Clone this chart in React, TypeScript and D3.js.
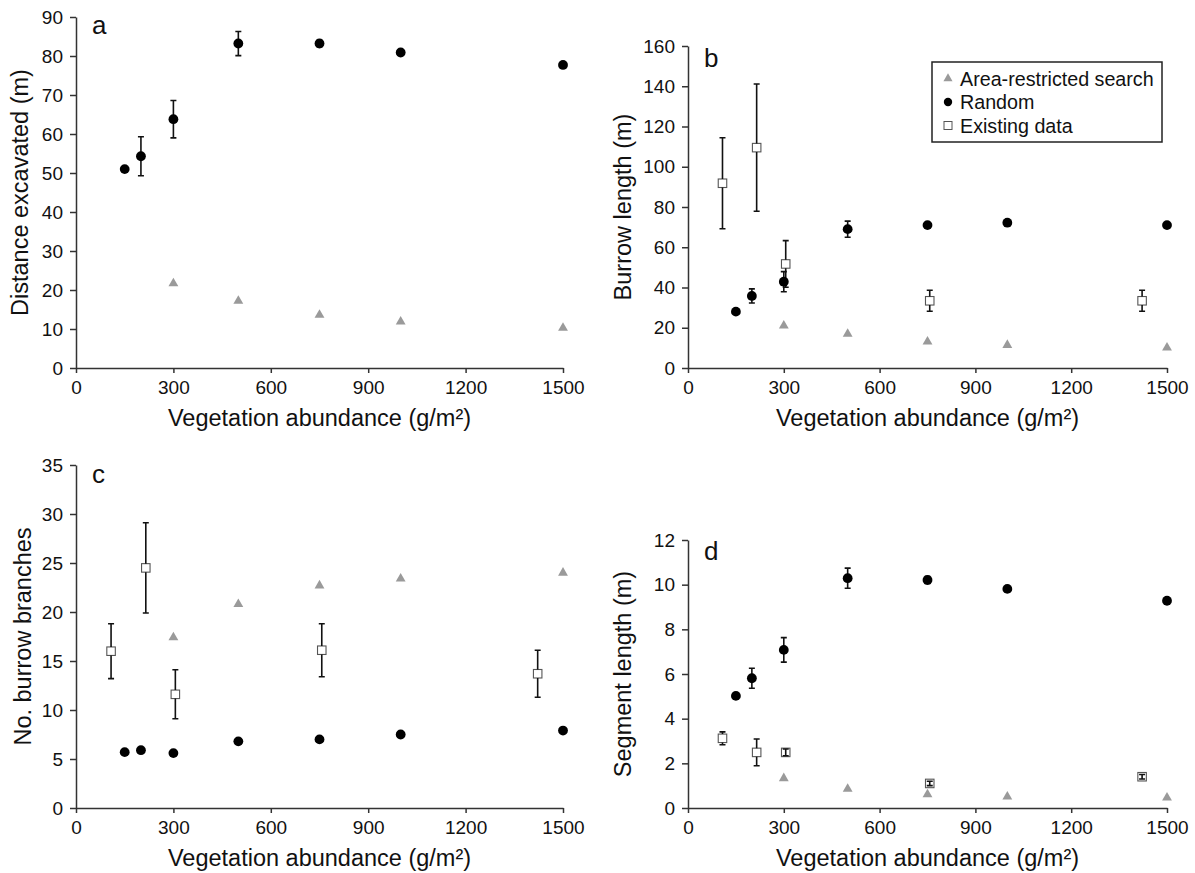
import React, { useRef, useEffect } from "react";
import * as d3 from "d3";

// x positions (vegetation abundance, g/m2)
const randomX = [150, 200, 300, 500, 750, 1000, 1500];
const arsX = [300, 500, 750, 1000, 1500];
const existX = [108, 215, 306, 757, 1422];
const xTicks = [0, 300, 600, 900, 1200, 1500];

// a: distance excavated
const distRandom = [51.0, 54.3, 63.8, 83.2, 83.2, 80.9, 77.7];
const distRandomErr = [0, 5, 4.8, 3.1, 0.8, 0, 0];
const distArs = [21.7, 17.2, 13.6, 11.9, 10.3];

// b: burrow length
const burrowRandom = [28, 35.8, 42.9, 69, 71, 72.2, 71];
const burrowRandomErr = [0, 3.5, 5, 4, 0, 0, 0];
const burrowArs = [21, 16.9, 13.1, 11.4, 10.1];
const burrowExist = [91.8, 109.5, 51.7, 33.4, 33.4];
const burrowExistErr = [22.6, 31.6, 11.6, 5.2, 5.2];

// c: number of branches
const branchRandom = [5.7, 5.9, 5.6, 6.8, 7.0, 7.5, 7.9];
const branchRandomErr = [0, 0.2, 0, 0, 0, 0, 0];
const branchArs = [17.4, 20.8, 22.7, 23.4, 24.0];
const branchExist = [16.0, 24.5, 11.6, 16.1, 13.7];
const branchExistErr = [2.8, 4.6, 2.5, 2.7, 2.4];

// d: segment length
const segRandom = [5.02, 5.81, 7.08, 10.29, 10.21, 9.81, 9.28];
const segRandomErr = [0, 0.45, 0.55, 0.45, 0.15, 0, 0];
const segArs = [1.33, 0.85, 0.61, 0.51, 0.46];
const segExist = [3.12, 2.49, 2.49, 1.1, 1.4];
const segExistErr = [0.29, 0.6, 0.15, 0.1, 0.1];

const legendLabels = ["Area-restricted search", "Random", "Existing data"];

interface PanelDef {
  letter: string;
  yLabel: string;
  yMax: number;
  yStep: number;
  left: number;
  right: number;
  top: number;
  bottom: number;
  yLabelX: number;
  letterY: number;
  random: number[];
  randomErr: number[];
  ars: number[];
  exist?: number[];
  existErr?: number[];
}

const FONT = "'Liberation Sans', Arial, Helvetica, sans-serif";
const TRI_COLOR = "#9a9a9a";

const App: React.FC = () => {
  const svgRef = useRef<SVGSVGElement>(null);

  useEffect(() => {
    document.body.style.margin = "0";
    if (!svgRef.current) return;
    const svg = d3.select(svgRef.current);
    svg.selectAll("*").remove();

    const panels: PanelDef[] = [
      {
        letter: "a", yLabel: "Distance excavated (m)", yMax: 90, yStep: 10,
        left: 76, right: 563, top: 17, bottom: 368, yLabelX: 28, letterY: 34,
        random: distRandom, randomErr: distRandomErr, ars: distArs,
      },
      {
        letter: "b", yLabel: "Burrow length (m)", yMax: 160, yStep: 20,
        left: 688, right: 1167, top: 46, bottom: 368, yLabelX: 631, letterY: 67,
        random: burrowRandom, randomErr: burrowRandomErr, ars: burrowArs,
        exist: burrowExist, existErr: burrowExistErr,
      },
      {
        letter: "c", yLabel: "No. burrow branches", yMax: 35, yStep: 5,
        left: 76, right: 563, top: 465, bottom: 808, yLabelX: 31, letterY: 483,
        random: branchRandom, randomErr: branchRandomErr, ars: branchArs,
        exist: branchExist, existErr: branchExistErr,
      },
      {
        letter: "d", yLabel: "Segment length (m)", yMax: 12, yStep: 2,
        left: 688, right: 1167, top: 540, bottom: 808, yLabelX: 631, letterY: 560,
        random: segRandom, randomErr: segRandomErr, ars: segArs,
        exist: segExist, existErr: segExistErr,
      },
    ];

    const triangle = d3.symbol().type(d3.symbolTriangle).size(42);
    const SQ = 8.5;

    panels.forEach((p) => {
      const x = d3.scaleLinear().domain([0, 1500]).range([p.left, p.right]);
      const y = d3.scaleLinear().domain([0, p.yMax]).range([p.bottom, p.top]);
      const g = svg.append("g");

      // axes
      const xAxis = g.append("g")
        .attr("transform", `translate(0,${p.bottom})`)
        .call(d3.axisBottom(x).tickValues(xTicks).tickSize(5).tickSizeOuter(0).tickPadding(8).tickFormat(d3.format("d")));
      const yAxis = g.append("g")
        .attr("transform", `translate(${p.left},0)`)
        .call(d3.axisLeft(y).tickValues(d3.range(0, p.yMax + 0.001, p.yStep)).tickSize(6).tickSizeOuter(0).tickPadding(7));
      [xAxis, yAxis].forEach((ax) => {
        ax.selectAll("path.domain").attr("stroke", "#333").attr("stroke-width", 1.5);
        ax.selectAll(".tick line").attr("stroke", "#333").attr("stroke-width", 1.5);
        ax.selectAll(".tick text")
          .attr("fill", "#111")
          .style("font-family", FONT)
          .style("font-size", "19px");
      });

      // axis labels
      g.append("text")
        .attr("x", (p.left + p.right) / 2)
        .attr("y", p.bottom + 58)
        .attr("text-anchor", "middle")
        .style("font-family", FONT)
        .style("font-size", "23.5px")
        .attr("fill", "#111")
        .text("Vegetation abundance (g/m²)");

      g.append("text")
        .attr("transform", `translate(${p.yLabelX},${(p.top + p.bottom) / 2}) rotate(-90)`)
        .attr("text-anchor", "middle")
        .style("font-family", FONT)
        .style("font-size", "23.5px")
        .attr("fill", "#111")
        .text(p.yLabel);

      g.append("text")
        .attr("x", p.left + 16)
        .attr("y", p.letterY)
        .style("font-family", FONT)
        .style("font-size", "26px")
        .attr("fill", "#111")
        .text(p.letter);

      const errBar = (cx: number, v: number, e: number, gapHalf: number) => {
        if (e <= 0) return;
        const y1 = y(v + e);
        const y2 = y(v - e);
        const cy = y(v);
        const cap = 3;
        const path = d3.path();
        if (cy - y1 > gapHalf) {
          path.moveTo(cx, y1); path.lineTo(cx, cy - gapHalf);
          path.moveTo(cx, y2); path.lineTo(cx, cy + gapHalf);
        } else {
          path.moveTo(cx, y1); path.lineTo(cx, y2);
        }
        path.moveTo(cx - cap, y1); path.lineTo(cx + cap, y1);
        path.moveTo(cx - cap, y2); path.lineTo(cx + cap, y2);
        g.append("path")
          .attr("d", path.toString())
          .attr("fill", "none")
          .attr("stroke", "#111")
          .attr("stroke-width", 1.6);
      };

      // area-restricted search (grey triangles)
      g.selectAll(null)
        .data(p.ars)
        .join("path")
        .attr("d", triangle)
        .attr("transform", (d, i) => `translate(${x(arsX[i])},${y(d)})`)
        .attr("fill", TRI_COLOR);

      // existing data (open squares)
      if (p.exist && p.existErr) {
        p.exist.forEach((v, i) => {
          const cx = x(existX[i]);
          const cy = y(v);
          g.append("rect")
            .attr("x", cx - SQ / 2)
            .attr("y", cy - SQ / 2)
            .attr("width", SQ)
            .attr("height", SQ)
            .attr("fill", "white")
            .attr("stroke", "#555")
            .attr("stroke-width", 1.1);
          errBar(cx, v, p.existErr![i], SQ / 2);
        });
      }

      // random (black circles)
      p.random.forEach((v, i) => {
        errBar(x(randomX[i]), v, p.randomErr[i], 0);
      });
      g.selectAll(null)
        .data(p.random)
        .join("circle")
        .attr("cx", (d, i) => x(randomX[i]))
        .attr("cy", (d) => y(d))
        .attr("r", 4.9)
        .attr("fill", "#000");
    });

    // legend (panel b)
    const lg = svg.append("g");
    lg.append("rect")
      .attr("x", 932).attr("y", 62).attr("width", 230).attr("height", 80)
      .attr("fill", "white").attr("stroke", "#222").attr("stroke-width", 1.5);
    const rowY = [78.5, 102, 125.5];
    legendLabels.forEach((lab, i) => {
      const cy = rowY[i];
      if (i === 0) {
        lg.append("path").attr("d", d3.symbol().type(d3.symbolTriangle).size(36)())
          .attr("transform", `translate(948,${cy})`).attr("fill", TRI_COLOR);
      } else if (i === 1) {
        lg.append("circle").attr("cx", 948).attr("cy", cy).attr("r", 4.2).attr("fill", "#000");
      } else {
        lg.append("rect").attr("x", 944).attr("y", cy - 4).attr("width", 8).attr("height", 8)
          .attr("fill", "white").attr("stroke", "#555").attr("stroke-width", 1);
      }
      lg.append("text")
        .attr("x", 960)
        .attr("y", cy + 7.3)
        .style("font-family", FONT)
        .style("font-size", "19.7px")
        .attr("fill", "#111")
        .text(lab);
    });
  }, []);

  return <svg ref={svgRef} width={1195} height={873} style={{ display: "block", background: "white" }} />;
};

export default App;
